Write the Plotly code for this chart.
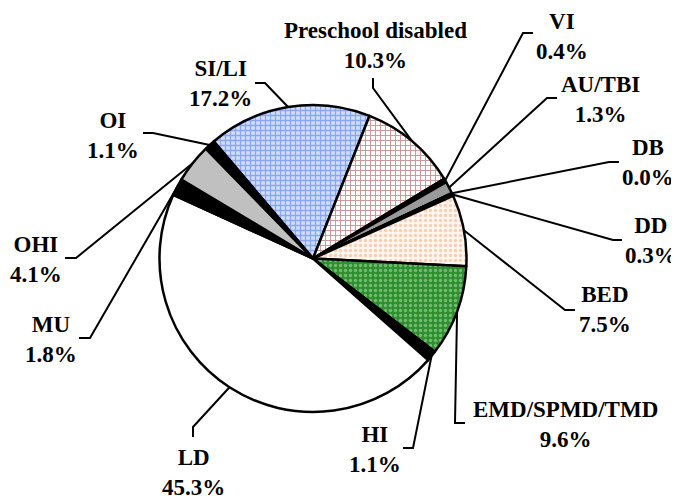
import math
import plotly.graph_objs as go

# slice data, clockwise starting from SI/LI
labels = ['SI/LI', 'Preschool disabled', 'VI', 'AU/TBI', 'DB', 'DD', 'BED',
          'EMD/SPMD/TMD', 'HI', 'LD', 'MU', 'OHI', 'OI']
values = [17.2, 10.3, 0.4, 1.3, 0.0, 0.3, 7.5, 9.6, 1.1, 45.3, 1.8, 4.1, 1.1]

# page is 679x500, the body margin pushes the figure 8px in
OFF = 8
W, H = 679 - OFF, 500 - OFF
cx, cy, r = 313, 258.5, 153.5
rotation = -40.3

# fill / pattern per slice
fills = ['#d2defb', 'white', 'black', '#999999', 'black', 'black', '#fff6ef',
         '#2f8f2f', 'black', 'white', 'black', '#c0c0c0', 'black']
pat_shape = ['+', '+', '', '', '', '', '.', '.', '', '', '', '', '']
pat_fg = ['#3f6ee8', '#9b2c2c', 'black', 'black', 'black', 'black', '#f4a77a',
          '#b7e6b7', 'black', 'black', 'black', 'black', 'black']
pat_solid = [0.45, 0.35, 0.3, 0.3, 0.3, 0.3, 0.35, 0.35, 0.3, 0.3, 0.3, 0.3, 0.3]

# label centres and leader elbows (outer end, bend) in page pixels
label_xy = [(220, 83), (375, 45), (562, 36), (600, 99), (648, 162), (651, 240),
            (605, 309), (565, 424), (375, 449), (193, 472), (51, 339), (36, 259),
            (113, 135)]
elbow_a = [(255, 83), (373, 78), (533, 33), (557, 98), (619, 162), (622, 240),
           (575, 310), (465, 423), (403, 448), (193, 437), (79, 338), (65, 258),
           (143, 133)]
elbow_b = [(265, 83), (373, 88), (523, 33), (547, 98), (609, 162), (613, 240),
           (565, 310), (455, 423), (413, 448), (193, 427), (90, 338), (76, 258),
           (153, 133)]

fig = go.Figure()

fig.add_trace(go.Pie(
    labels=labels,
    values=values,
    sort=False,
    direction='clockwise',
    rotation=rotation,
    textinfo='none',
    hoverinfo='label+percent',
    showlegend=False,
    domain=dict(x=[(cx - r - OFF) / W, (cx + r - OFF) / W],
                y=[(H + OFF - cy - r) / H, (H + OFF - cy + r) / H]),
    marker=dict(
        colors=fills,
        line=dict(color='black', width=2.5),
        pattern=dict(shape=pat_shape, fgcolor=pat_fg, bgcolor=fills,
                     size=5, solidity=pat_solid, fillmode='overlay'),
    ),
))

# leader lines: from label elbow to the middle of each slice on the rim
total = sum(values)
start = 90 - rotation
xs, ys = [], []
cum = 0
for i, v in enumerate(values):
    mid = math.radians(start - 360 * (cum + v / 2) / total)
    cum += v
    px = cx + r * math.cos(mid)
    py = cy - r * math.sin(mid)
    xs += [elbow_a[i][0], elbow_b[i][0], px, None]
    ys += [elbow_a[i][1], elbow_b[i][1], py, None]

fig.add_trace(go.Scatter(x=xs, y=ys, mode='lines',
                         line=dict(color='black', width=2),
                         hoverinfo='skip', showlegend=False))

for i, name in enumerate(labels):
    fig.add_annotation(
        x=label_xy[i][0], y=label_xy[i][1], xref='x', yref='y',
        text=f'<b>{name}</b><br><b>{values[i]:.1f}%</b>',
        showarrow=False, align='center',
        xanchor='center', yanchor='middle',
        font=dict(family='Liberation Serif', size=23, color='black'),
    )

fig.update_layout(
    width=W, height=H,
    margin=dict(l=0, r=0, t=0, b=0),
    paper_bgcolor='white',
    plot_bgcolor='rgba(0,0,0,0)',
    xaxis=dict(range=[OFF, W + OFF], visible=False, domain=[0, 1], fixedrange=True),
    yaxis=dict(range=[H + OFF, OFF], visible=False, domain=[0, 1], fixedrange=True),
)

fig.write_html("out.html")
